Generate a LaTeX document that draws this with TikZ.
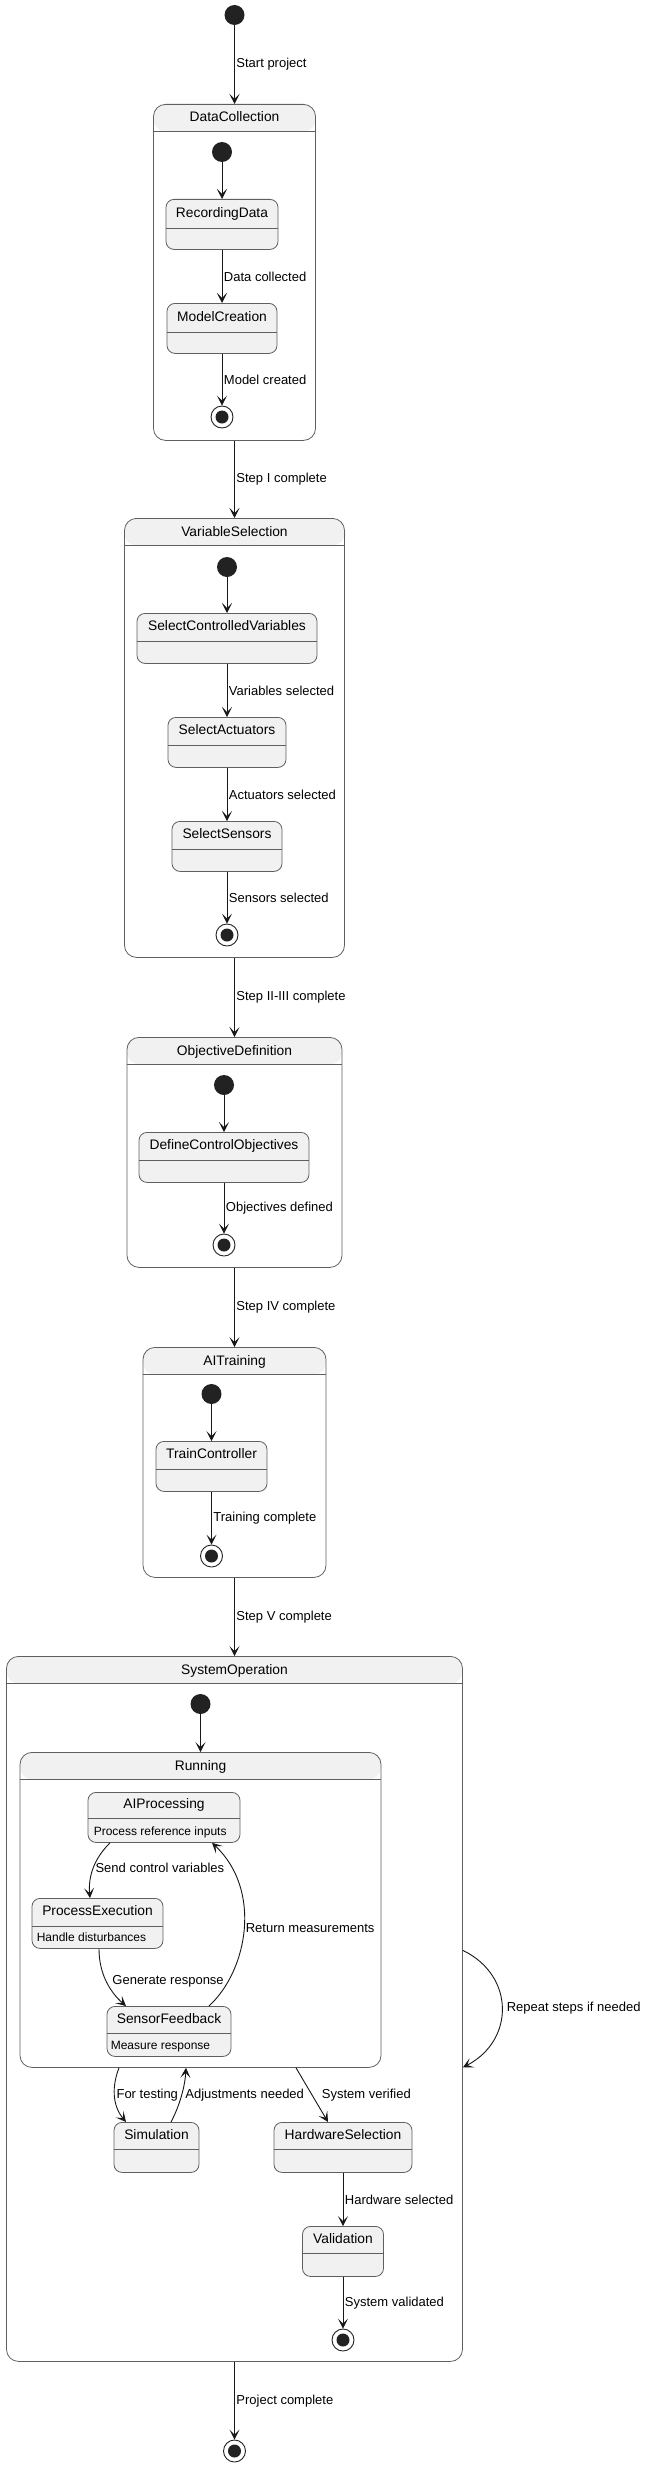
\documentclass[tikz,border=0pt]{standalone}
\usepackage{fontspec}
\setmainfont{Liberation Sans}
\usetikzlibrary{arrows.meta, calc}

\definecolor{stategray}{HTML}{F1F1F1}
\definecolor{linegray}{HTML}{5F5F5F}
\definecolor{darkfill}{HTML}{222222}
\definecolor{arrowcol}{HTML}{181818}

\tikzset{
    statebox/.style={draw=linegray, fill=stategray, rounded corners=8pt, line width=0.8pt, minimum height=50, inner sep=0pt},
    compbox/.style={draw=linegray, fill=white, rounded corners=12pt, line width=0.8pt, inner sep=0pt,
        path picture={\fill[stategray] (path picture bounding box.north west) rectangle ([yshift=-27pt]path picture bounding box.north east);}},
    divider/.style={draw=linegray, line width=0.8pt},
    titletext/.style={font=\fontsize{13.8}{16}\selectfont, inner sep=0pt, text height=10pt, text depth=3pt},
    desctext/.style={font=\fontsize{12}{14}\selectfont, inner sep=0pt, anchor=west, text height=9pt, text depth=2.5pt},
    lbl/.style={font=\fontsize{13}{15}\selectfont, anchor=west, inner sep=1.5pt},
    trans/.style={draw=arrowcol, line width=0.9pt, -{Stealth[length=10pt, width=10pt, inset=5pt]}},
    initstate/.style={circle, fill=darkfill, minimum size=20pt, inner sep=0pt},
    finalstate/.style={circle, draw=darkfill, fill=white, line width=0.9pt, minimum size=22pt, inner sep=0pt,
        path picture={\fill[darkfill] (path picture bounding box.center) circle (6.5pt);}},
}

% name, x, top, width, header height, title
\newcommand{\simplestate}[6]{%
    \node[statebox, minimum width=#4, anchor=north] (#1) at (#2,#3) {};
    \draw[divider] ([yshift=-#5]#1.north west) -- ([yshift=-#5]#1.north east);
    \node[titletext] (#1-title) at ([yshift=-#5/2]#1.north) {#6};
}
% name, x, top, width, height, title
\newcommand{\compstate}[6]{%
    \node[compbox, minimum width=#4, minimum height=#5, anchor=north] (#1) at (#2,#3) {};
    \draw[divider] ([yshift=-27]#1.north west) -- ([yshift=-27]#1.north east);
    \node[titletext] (#1-title) at ([yshift=-14.5]#1.north) {#6};
}

\begin{document}
\begin{tikzpicture}[x=1pt, y=-1pt]
        \useasboundingbox (0,0) rectangle (648,2467);

        \node[initstate] (start) at (234.5,15) {};

        % step I
        \compstate{dc}{234.5}{104}{162}{336}{DataCollection}
        \node[initstate] (dc-init) at (222,152) {};
        \simplestate{rec}{222}{199}{112}{29}{RecordingData}
        \simplestate{model}{222}{303}{110}{29}{ModelCreation}
        \node[finalstate] (dc-end) at (222,417) {};

        % steps II-III
        \compstate{vs}{234.5}{518}{220}{439}{VariableSelection}
        \node[initstate] (vs-init) at (227,567) {};
        \simplestate{scv}{227}{613}{180}{28}{SelectControlledVariables}
        \simplestate{act}{227}{717}{118}{28}{SelectActuators}
        \simplestate{sens}{227}{821}{110}{28}{SelectSensors}
        \node[finalstate] (vs-end) at (227,935) {};

        % step IV
        \compstate{od}{234.5}{1037}{215}{230}{ObjectiveDefinition}
        \node[initstate] (od-init) at (224,1085) {};
        \simplestate{dco}{224}{1132}{170}{28}{DefineControlObjectives}
        \node[finalstate] (od-end) at (224,1245) {};

        % step V
        \compstate{ait}{234.5}{1347}{183}{230}{AITraining}
        \node[initstate] (ait-init) at (211.5,1394) {};
        \simplestate{train}{211.5}{1441}{111}{28}{TrainController}
        \node[finalstate] (ait-end) at (211.5,1556) {};

        % operation
        \compstate{so}{234.5}{1656}{456}{705}{SystemOperation}
        \node[initstate] (so-init) at (200.5,1704) {};
        \compstate{run}{200.5}{1752}{361}{315}{Running}
        \simplestate{aip}{164}{1792}{152}{26}{AIProcessing}
        \node[desctext] (aip-desc) at ([xshift=6,yshift=-40]aip.north west) {Process reference inputs};
        \simplestate{pe}{97.5}{1898}{131}{28}{ProcessExecution}
        \node[desctext] (pe-desc) at ([xshift=5,yshift=-40]pe.north west) {Handle disturbances};
        \simplestate{sf}{169}{2006}{124}{27}{SensorFeedback}
        \node[desctext] (sf-desc) at ([xshift=4,yshift=-40]sf.north west) {Measure response};
        \simplestate{sim}{156.5}{2122}{85}{27}{Simulation}
        \simplestate{hw}{343}{2122}{138}{27}{HardwareSelection}
        \simplestate{val}{343}{2226}{81}{27}{Validation}
        \node[finalstate] (so-end) at (343,2340) {};

        \node[finalstate] (finish) at (234.5,2451) {};

        \draw[trans] (start) -- (dc) node[midway, lbl] {Start project};
        \draw[trans] (dc-init) -- (rec);
        \draw[trans] (rec) -- (model) node[midway, lbl] {Data collected};
        \draw[trans] (model) -- (dc-end) node[midway, lbl] {Model created};
        \draw[trans] (dc) -- (vs) node[midway, lbl] {Step I complete};

        \draw[trans] (vs-init) -- (scv);
        \draw[trans] (scv) -- (act) node[midway, lbl] {Variables selected};
        \draw[trans] (act) -- (sens) node[midway, lbl] {Actuators selected};
        \draw[trans] (sens) -- (vs-end) node[midway, lbl] {Sensors selected};
        \draw[trans] (vs) -- (od) node[midway, lbl] {Step II-III complete};

        \draw[trans] (od-init) -- (dco);
        \draw[trans] (dco) -- (od-end) node[midway, lbl] {Objectives defined};
        \draw[trans] (od) -- (ait) node[midway, lbl] {Step IV complete};

        \draw[trans] (ait-init) -- (train);
        \draw[trans] (train) -- (ait-end) node[midway, lbl] {Training complete};
        \draw[trans] (ait) -- (so) node[midway, lbl] {Step V complete};

        \draw[trans] (so-init) -- (run);
        \draw[trans] ([xshift=-54]aip.south) .. controls +(-15,15) and +(-2,-23) .. ([xshift=-7.5]pe.north)
            node[pos=0.5, lbl] {Send control variables};
        \draw[trans] ([xshift=1.5]pe.south) .. controls +(0,25) and +(-16,-14) .. ([xshift=-43]sf.north)
            node[pos=0.5, lbl, xshift=4] {Generate response};
        \draw[trans] ([xshift=40]sf.north) .. controls +(39,-36) and +(50,47) .. ([xshift=48]aip.south)
            node[pos=0.5, lbl] {Return measurements};
        \draw[trans] ([xshift=-81.5]run.south) .. controls +(-7,18) and +(-14,-17) .. ([xshift=-30.5]sim.north)
            node[pos=0.5, lbl] {For testing};
        \draw[trans] ([xshift=14.5]sim.north) .. controls +(9,-17) and +(-1,18) .. ([xshift=-14.5]run.south)
            node[pos=0.5, lbl, xshift=2] {Adjustments needed};
        \draw[trans] ([xshift=95.5]run.south) -- ([xshift=-15]hw.north) node[midway, lbl, xshift=8] {System verified};
        \draw[trans] (hw) -- (val) node[midway, lbl] {Hardware selected};
        \draw[trans] (val) -- (so-end) node[midway, lbl] {System validated};

        \draw[trans] ([yshift=58.5]so.east) .. controls +(52,25) and +(52,-27) .. ([yshift=-58.5]so.east)
            node[pos=0.5, lbl, xshift=3] {Repeat steps if needed};
        \draw[trans] (so) -- (finish) node[midway, lbl] {Project complete};

\end{tikzpicture}
\end{document}
